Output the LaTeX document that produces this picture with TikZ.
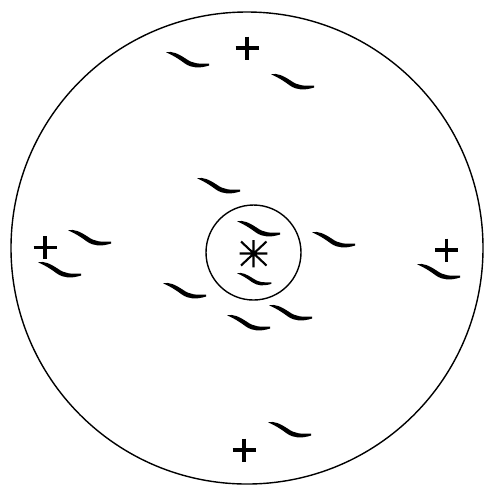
\documentclass[tikz,border=0pt]{standalone}
\begin{document}
\begin{tikzpicture}[x=0.5pt,y=-0.5pt,
  ring/.style={line width=0.7pt},
  plusmark/.style={line width=1.6pt},
  starmark/.style={line width=1.05pt},
  tl/.pic={\fill (0,0.3) .. controls (6,-1.2) and (12,1.5) .. (20,6.8) .. controls (27,11.8) and (33,12) .. (43,11.6)
      -- (43,13.6) .. controls (33,16.4) and (26,16.4) .. (18.6,11.3) .. controls (12,6.3) and (6,2.8) .. (0,0.3) -- cycle;}]
\useasboundingbox (0,0) rectangle (486,484);
\begin{scope}
\clip (0,0) rectangle (486,484);
\draw[ring] (247,248) circle[radius=236];
\end{scope}
\draw[ring] (253.5,252.5) circle[radius=47.5];
% asterisk
\draw[starmark] (253.5,240) -- (253.5,267.3) (239.5,253.5) -- (267.3,253.5)
  (241,241.5) -- (266.5,265.5) (266.5,241.5) -- (241,265.5);
% plus signs
\foreach \x/\y in {247/48, 45/247.7, 446.7/250, 244/450}
  \draw[plusmark] (\x-11.5,\y) -- (\x+11.5,\y) (\x,\y-11.5) -- (\x,\y+11.5);
% tildes (top-left corner of each)
\foreach \x/\y in {166/52, 271/74, 197/178, 237/221, 312/232, 68/230, 38/262, 417/264, 163/283, 269/305, 227/315, 268/422}
  \pic at (\x,\y) {tl};
\pic[scale=0.8] at (237,273) {tl};
\end{tikzpicture}
\end{document}
